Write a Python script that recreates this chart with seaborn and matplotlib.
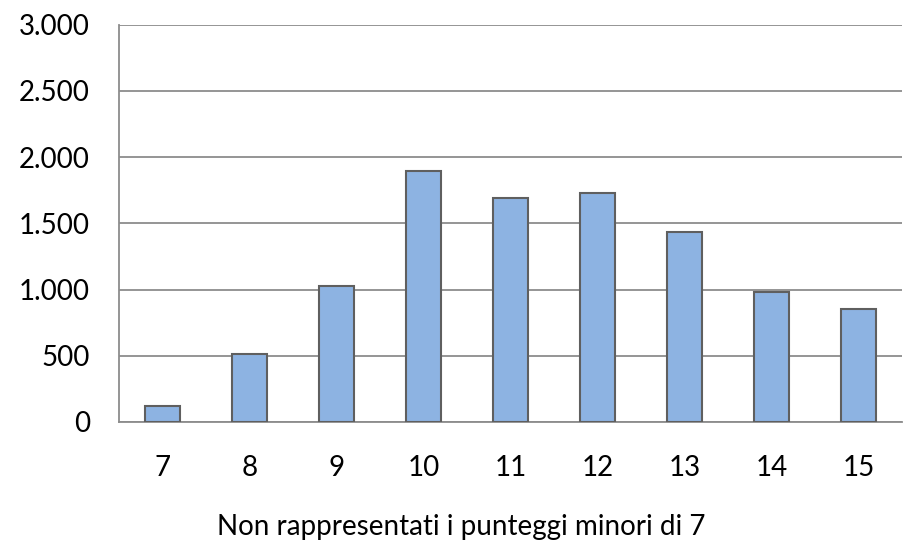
import numpy as np
import pandas as pd
import matplotlib
matplotlib.use("Agg")
import matplotlib.pyplot as plt
import seaborn as sns
from matplotlib.ticker import FixedLocator

# data
punteggi = ["7", "8", "9", "10", "11", "12", "13", "14", "15"]
conteggi = [120, 512, 1027, 1898, 1694, 1730, 1437, 982, 856]
y_ticks = [0, 500, 1000, 1500, 2000, 2500, 3000]
y_labels = ["0", "500", "1.000", "1.500", "2.000", "2.500", "3.000"]

df = pd.DataFrame({"punteggio": punteggi, "conteggio": conteggi})

sns.set_style("white")
plt.rcParams["font.family"] = ["Lato", "DejaVu Sans"]

fig = plt.figure(figsize=(9.22, 5.43), dpi=100)
ax = fig.add_axes([119 / 922, 1 - 422 / 543, (902 - 119) / 922, (422 - 24.5) / 543])

sns.barplot(data=df, x="punteggio", y="conteggio", color="#8DB3E2", saturation=1,
            width=0.41, edgecolor="#5f5f5f", linewidth=1.5, ax=ax, zorder=3)

ax.set_ylim(0, 3000)
ax.set_xlim(-0.5, len(punteggi) - 0.5)
ax.set_yticks(y_ticks)
ax.set_yticklabels(y_labels, fontsize=20, color="black")
ax.yaxis.grid(True, color="#8c8c8c", linewidth=1.3, zorder=0)
ax.set_axisbelow(True)

ax.tick_params(axis="x", which="major", length=0, labelsize=20, labelcolor="black", pad=24)
ax.xaxis.set_minor_locator(FixedLocator(np.arange(-0.5, len(punteggi), 1.0)))
ax.tick_params(axis="x", which="minor", length=7, width=1.3, color="#8c8c8c", direction="out")
ax.tick_params(axis="y", length=7, width=1.3, color="#8c8c8c", direction="out", pad=14)

for s in ["top", "right"]:
    ax.spines[s].set_visible(False)
for s in ["left", "bottom"]:
    ax.spines[s].set_color("#8c8c8c")
    ax.spines[s].set_linewidth(1.3)

ax.set_ylabel("")
ax.set_xlabel("")
# caption is centred on the whole figure, not the axes
fig.text(0.5, 1 - 527 / 543, "Non rappresentati i punteggi minori di 7",
         fontsize=20, color="black", ha="center", va="center")

fig.savefig("out.png", dpi=100)
